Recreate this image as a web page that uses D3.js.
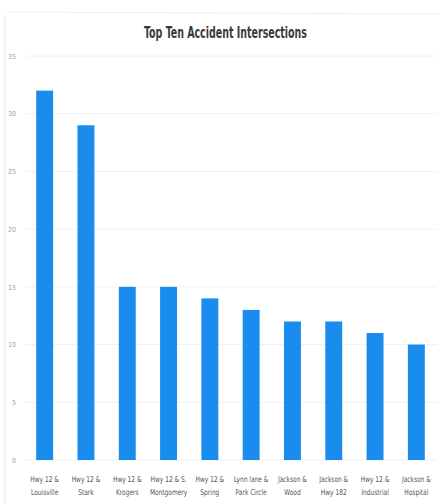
<!DOCTYPE html>
<html>
<head>
<meta charset="utf-8">
<script src="https://cdn.jsdelivr.net/npm/d3@7"></script>
<style>
  html, body { margin: 0; padding: 0; background: #fff; }
  svg { display: block; }
</style>
</head>
<body>
<div id="chart"></div>
<script>
const categories = [
  ["Hwy 12 &", "Louisville"],
  ["Hwy 12 &", "Stark"],
  ["Hwy 12 &", "Krogers"],
  ["Hwy 12 & S.", "Montgomery"],
  ["Hwy 12 &", "Spring"],
  ["Lynn lane &", "Park Circle"],
  ["Jackson &", "Wood"],
  ["Jackson &", "Hwy 182"],
  ["Hwy 12 &", "Industrial"],
  ["Jackson &", "Hospital"]
];
const values = [32, 29, 15, 15, 14, 13, 12, 12, 11, 10];
const yTicks = [0, 5, 10, 15, 20, 25, 30, 35];
const title = "Top Ten Accident Intersections";

const W = 440, H = 504;
const svg = d3.select("#chart").append("svg").attr("width", W).attr("height", H);
const font = "'DejaVu Sans Condensed', 'Liberation Sans', sans-serif";

// faint page edges from scan
svg.append("line").attr("x1", 5).attr("x2", 5).attr("y1", 14).attr("y2", 504)
  .attr("stroke", "#e8e8e8").attr("stroke-width", 1);
svg.append("line").attr("x1", 8).attr("x2", 440).attr("y1", 12).attr("y2", 14)
  .attr("stroke", "#ececec").attr("stroke-width", 1);

const x = d3.scaleBand().domain(d3.range(categories.length)).range([24, 437]).paddingInner(0.59).paddingOuter(0.295);
const y = d3.scaleLinear().domain([0, 35]).range([460, 56]);

// gridlines
svg.append("g").selectAll("line").data(yTicks).join("line")
  .attr("x1", 26).attr("x2", 437)
  .attr("y1", d => y(d)).attr("y2", d => y(d))
  .attr("stroke", "#f0f0f0").attr("stroke-width", 1);

// y axis labels
const yAxis = d3.axisLeft(y).tickValues(yTicks).tickSize(0).tickPadding(0);
const gy = svg.append("g").attr("transform", "translate(16,0)").call(yAxis);
gy.select(".domain").remove();
gy.selectAll("text").attr("font-family", font).attr("font-size", 7).attr("fill", "#a0a0a0");

// bars
svg.append("g").selectAll("rect").data(values).join("rect")
  .attr("x", (d, i) => x(i))
  .attr("width", x.bandwidth())
  .attr("y", d => y(d))
  .attr("height", d => y(0) - y(d))
  .attr("fill", "#1a8cee");

// x labels
const gx = svg.append("g");
categories.forEach((c, i) => {
  const cx = x(i) + x.bandwidth() / 2;
  const g = gx.append("g").attr("transform", `translate(${cx},482) scale(0.82,1)`);
  c.forEach((line, j) => {
    g.append("text")
      .attr("x", 0)
      .attr("y", j * 13)
      .attr("text-anchor", "middle")
      .attr("font-family", font)
      .attr("font-size", 8)
      .attr("fill", "#555")
      .text(line);
  });
});

// title
svg.append("text").attr("x", 225.5).attr("y", 38)
  .attr("text-anchor", "middle")
  .attr("font-family", font)
  .attr("font-size", 16)
  .attr("font-weight", "bold")
  .attr("fill", "#3a3a3a")
  .attr("textLength", 163)
  .attr("lengthAdjust", "spacingAndGlyphs")
  .text(title);
</script>
</body>
</html>
